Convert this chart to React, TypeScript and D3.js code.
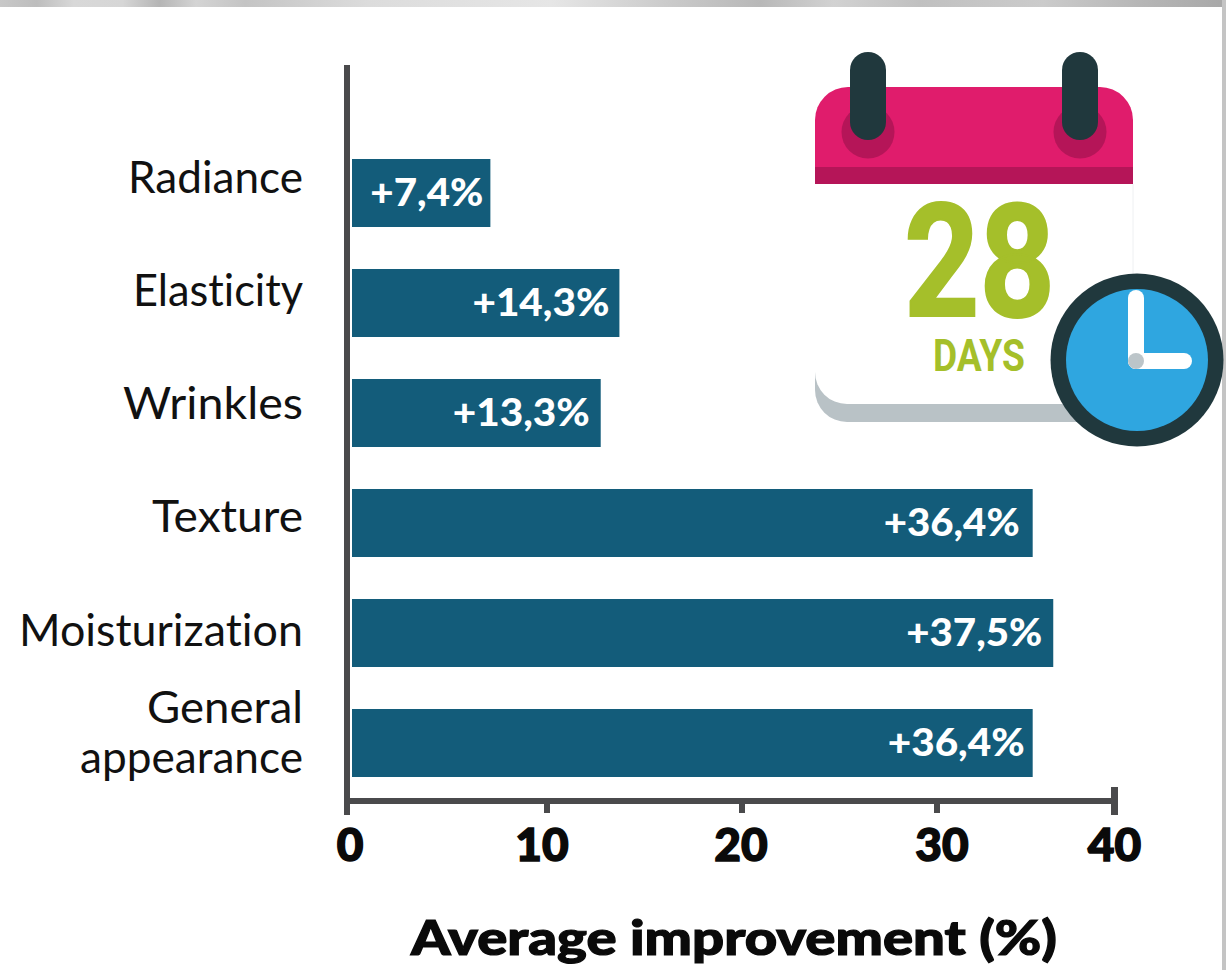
import React from "react";
import * as d3 from "d3";

const categories = ["Radiance", "Elasticity", "Wrinkles", "Texture", "Moisturization", "General appearance"];
const improvement = [7.4, 14.3, 13.3, 36.4, 37.5, 36.4];
const valueLabels = ["+7,4%", "+14,3%", "+13,3%", "+36,4%", "+37,5%", "+36,4%"];
const ticks = [0, 10, 20, 30, 40];
const xTitle = "Average improvement (%)";

const labelInsets = [7, 10, 11, 13, 11, 8];
const labelWidths = [113, 137, 137, 136, 136, 137];
const tickLabelShift = [3, -5, -1, 5, 0];
const catLines = [["Radiance"], ["Elasticity"], ["Wrinkles"], ["Texture"], ["Moisturization"], ["General", "appearance"]];
const catBaselines = [[193], [306], [419], [532], [646], [723, 773]];
const catWidths = [[175], [170], [180], [151], [284], [156, 223]];
const stripStops = [
  [0, "#c8c8c8"], [0.03, "#bdbdbd"], [0.06, "#d8d8d8"], [0.1, "#d6d6d6"], [0.13, "#b5b5b5"], [0.16, "#d4d4d4"], [0.2, "#c4c4c4"],
  [0.3, "#dcdcdc"], [0.45, "#e6e6e6"], [0.55, "#c9c9c9"], [0.62, "#b8b8b8"], [0.68, "#d2d2d2"], [0.75, "#c0c0c0"], [0.85, "#cbcbcb"], [0.93, "#b6b6b6"], [1, "#a8a8a8"],
] as [number, string][];

const FONT = "Lato, 'Noto Sans', sans-serif";
const AXIS = "#4a4a4c";
const BAR = "#135c7a";

export default function App() {
  const xBar = d3.scaleLinear().domain([0, 40]).range([352, 1100]);
  const xAxis = d3.scaleLinear().domain(ticks).range([347, 547, 742, 937, 1114.5]);
  const y = d3.scaleBand<string>().domain(categories).range([159, 777]).paddingInner(42 / 110).paddingOuter(0);
  return (
    <svg width={1226} height={970} viewBox="0 0 1226 970" style={{ position: "absolute", left: 0, top: 0, display: "block", background: "#fff", fontVariantLigatures: "none" }}>
      <defs>
        <linearGradient id="strip" x1="0" x2="1" y1="0" y2="0">
          {stripStops.map(([o, c]) => <stop key={o} offset={o} stopColor={c} />)}
        </linearGradient>
      </defs>
      <rect x={0} y={0} width={1226} height={7} fill="url(#strip)" />
      <rect x={1222} y={0} width={4} height={970} fill="#c4c4c4" />

      {categories.map((c, i) => (
        <g key={c}>
          <rect x={xBar(0)} y={y(c)} width={xBar(improvement[i]) - xBar(0)} height={y.bandwidth()} fill={BAR} />
          <text x={xBar(improvement[i]) - labelInsets[i] - labelWidths[i]} y={y(c)! + y.bandwidth() / 2 + 13}
            fontFamily={FONT} fontWeight={900} fontSize={38} fill="#fff" textLength={labelWidths[i]} lengthAdjust="spacingAndGlyphs">{valueLabels[i]}</text>
          {catLines[i].map((t, j) => (
            <text key={t} x={303 - catWidths[i][j]} y={catBaselines[i][j]} fontFamily={FONT} fontSize={45} fill="#111"
              textLength={catWidths[i][j]} lengthAdjust="spacingAndGlyphs">{t}</text>
          ))}
        </g>
      ))}

      <line x1={347} x2={347} y1={65} y2={815} stroke={AXIS} strokeWidth={6} />
      <line x1={347} x2={1114.5} y1={801} y2={801} stroke={AXIS} strokeWidth={6} />
      {ticks.map((t, i) => (
        <g key={t}>
          <line x1={xAxis(t)} x2={xAxis(t)} y1={i === 4 ? 787 : 801} y2={i === 0 || i === 4 ? 815 : 813} stroke={AXIS} strokeWidth={i === 4 ? 7 : 6} />
          <text x={xAxis(t) + tickLabelShift[i]} y={861} textAnchor="middle" fontFamily={FONT} fontWeight={900} fontSize={46} fill="#0a0a0a" stroke="#0a0a0a" strokeWidth={1.5}>{t}</text>
        </g>
      ))}
      <text x={734} y={955} textAnchor="middle" fontFamily={FONT} fontWeight={900} fontSize={48} fill="#0a0a0a" stroke="#0a0a0a" strokeWidth={1.2} textLength={646} lengthAdjust="spacingAndGlyphs">{xTitle}</text>

      <g>
        <path d="M815 150 v240 a32 32 0 0 0 32 32 h254 a32 32 0 0 0 32 -32 v-240 z" fill="#b9c2c6" />
        <path d="M815 150 v222 a32 32 0 0 0 32 32 h254 a32 32 0 0 0 32 -32 v-222 z" fill="#fff" />
        <line x1={1133} x2={1133} y1={184} y2={372} stroke="#eef0f2" strokeWidth={1} />
        <path d="M815 184 v-64 a33 33 0 0 1 33 -33 h252 a33 33 0 0 1 33 33 v64 z" fill="#e01c6c" />
        <rect x={815} y={167} width={318} height={17} fill="#b51558" />
        <circle cx={868} cy={132} r={26.5} fill="#b51558" />
        <circle cx={1080} cy={132} r={26.5} fill="#b51558" />
        <rect x={850} y={52} width={36} height={88} rx={18} fill="#20383d" />
        <rect x={1062} y={52} width={36} height={88} rx={18} fill="#20383d" />
        <text x={904} y={316} fontFamily="Roboto, sans-serif" fontWeight={700} fontSize={158} fill="#a5bf2a" stroke="#a5bf2a" strokeWidth={2} textLength={151} lengthAdjust="spacingAndGlyphs">28</text>
        <text x={933} y={371} fontFamily="Roboto, sans-serif" fontWeight={700} fontSize={44} fill="#a5bf2a" textLength={92} lengthAdjust="spacingAndGlyphs">DAYS</text>
        <circle cx={1137} cy={360} r={86.5} fill="#20383d" />
        <circle cx={1137} cy={360} r={71} fill="#2fa6e0" />
        <rect x={1128} y={290} width={16} height={79} rx={8} fill="#fff" />
        <rect x={1128} y={353} width={64} height={16} rx={8} fill="#fff" />
        <circle cx={1136} cy={361} r={8} fill="#bcc5c9" />
      </g>
    </svg>
  );
}
